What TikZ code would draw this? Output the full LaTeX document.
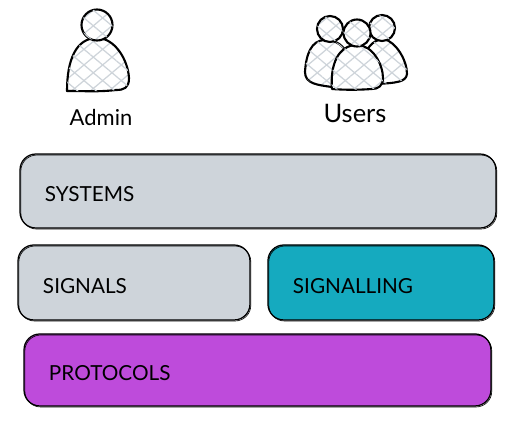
\documentclass[tikz,border=0pt]{standalone}
\usepackage{fontspec}
\setmainfont{Lato}
\usetikzlibrary{positioning,patterns.meta}
\definecolor{layergray}{RGB}{206,212,218}
\definecolor{layerteal}{RGB}{21,170,191}
\definecolor{layerpurple}{RGB}{190,75,219}
\tikzset{
  sketchline/.style={draw=black, line width=1.2pt, line join=round},
  hatched/.style={
    preaction={fill=white},
    preaction={pattern={Lines[angle=40,distance=2.4mm,line width=0.7pt]}, pattern color=layergray},
    postaction={pattern={Lines[angle=-40,distance=2.4mm,line width=0.7pt]}, pattern color=layergray}},
  layerbox/.style={rounded corners=9pt, sketchline, line width=0.7pt, outer sep=0pt, inner xsep=0.5cm,
    align=left, minimum height=1.48cm, text height=0.44cm, font=\fontsize{11.8}{13}\selectfont,
    postaction={draw=black, line width=0.35pt, rounded corners=9pt, transform canvas={shift={(0.5pt,-0.6pt)}}}},
  graybox/.style={layerbox, fill=layergray},
  tealbox/.style={layerbox, fill=layerteal},
  purplebox/.style={layerbox, fill=layerpurple},
  actorlabel/.style={font=\fontsize{12.5}{15}\selectfont, inner sep=0pt},
}
\newcommand{\drawhead}[3]{\draw[sketchline, hatched] (#1,#2) circle (#3);}
\begin{document}
\begin{tikzpicture}[x=0.02cm, y=-0.02cm]
  \useasboundingbox (0,0) rectangle (505,433);
  % admin
  \draw[sketchline, hatched] (67,91) .. controls (67,60) and (76,38) .. (97,38)
    .. controls (115,38) and (128,60) .. (129,78) .. controls (129,88) and (124,90) .. (116,90)
    .. controls (100,92) and (85,91) .. (67,91) -- cycle;
  \drawhead{97}{25}{15.5}
  % users, outer two first
  \draw[sketchline, hatched] (332,87) .. controls (318,85) and (305,84) .. (305,72)
    .. controls (306,55) and (311,40) .. (325,40) .. controls (336,40) and (345,45) .. (350,60) -- (332,87) -- cycle;
  \draw[sketchline, hatched] (375,84) -- (365,55) .. controls (368,45) and (376,39) .. (384,39)
    .. controls (396,42) and (407,60) .. (407,74) .. controls (406,82) and (397,83) .. (375,84) -- cycle;
  \drawhead{330}{29}{13}
  \drawhead{382}{28}{13}
  \draw[sketchline, hatched] (332,89) .. controls (330,65) and (338,45) .. (357,45)
    .. controls (373,45) and (383,65) .. (383,78) .. controls (383,86) and (378,89) .. (372,89)
    .. controls (358,90) and (345,90) .. (332,89) -- cycle;
  \drawhead{357}{33}{13.5}
  \node[actorlabel] (admin) at (101,117) {Admin};
  \node[actorlabel, font=\fontsize{14.5}{15}\selectfont] (users) at (355,113) {Users};
  % layers
  \node[graybox, text width=8.52cm, anchor=north west] (systems) at (20,154) {SYSTEMS};
  \node[graybox, text width=3.64cm, minimum height=1.5cm, below=0.34cm of systems.south west,
    anchor=north west, xshift=-0.04cm] (signals) {SIGNALS};
  \node[tealbox, text width=3.52cm, minimum height=1.5cm, right=0.36cm of signals] (signalling) {SIGNALLING};
  \node[purplebox, text width=8.34cm, minimum height=1.44cm, below=0.28cm of signals.south west,
    anchor=north west, xshift=0.12cm] (protocols) {PROTOCOLS};
\end{tikzpicture}
\end{document}
